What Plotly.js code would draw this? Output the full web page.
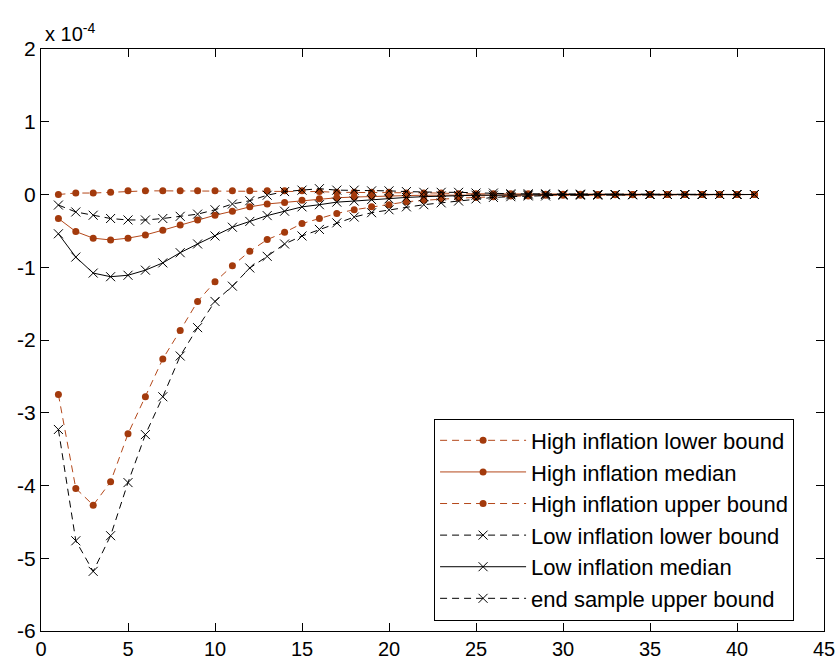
<!DOCTYPE html>
<html>
<head>
<meta charset="utf-8">
<script src="https://cdn.plot.ly/plotly-3.0.1.min.js"></script>
<style>
html,body{margin:0;padding:0;background:#fff;}
#chart{width:838px;height:659px;}
</style>
</head>
<body>
<div id="chart"></div>
<script>
// Horizon (periods)
const horizon = [1,2,3,4,5,6,7,8,9,10,11,12,13,14,15,16,17,18,19,20,21,22,23,24,25,26,27,28,29,30,31,32,33,34,35,36,37,38,39,40,41];

// Values in units of 1e-4
const highLower = [-2.75,-4.04,-4.27,-3.95,-3.29,-2.78,-2.26,-1.87,-1.47,-1.20,-0.98,-0.78,-0.62,-0.52,-0.40,-0.33,-0.26,-0.21,-0.17,-0.14,-0.10,-0.08,-0.06,-0.05,-0.04,-0.03,-0.02,-0.02,-0.01,-0.01,-0.01,-0.01,-0.005,-0.005,0,0,0,0,0,0,0];
const highMedian = [-0.33,-0.51,-0.60,-0.625,-0.60,-0.556,-0.49,-0.42,-0.35,-0.285,-0.23,-0.17,-0.13,-0.11,-0.08,-0.06,-0.045,-0.035,-0.025,-0.02,-0.015,-0.01,-0.01,-0.005,-0.005,0,0,0,0,0,0,0,0,0,0,0,0,0,0,0,0];
const highUpper = [0.0,0.02,0.02,0.03,0.05,0.05,0.05,0.05,0.05,0.05,0.05,0.05,0.05,0.05,0.05,0.04,0.03,0.03,0.03,0.03,0.02,0.02,0.02,0.01,0.01,0.01,0.01,0.01,0.005,0.005,0.005,0,0,0,0,0,0,0,0,0,0];
const lowLower = [-3.23,-4.76,-5.18,-4.69,-3.96,-3.30,-2.78,-2.22,-1.83,-1.47,-1.26,-1.01,-0.85,-0.68,-0.57,-0.48,-0.39,-0.31,-0.25,-0.21,-0.17,-0.14,-0.115,-0.09,-0.06,-0.04,-0.03,-0.02,-0.02,-0.01,-0.01,-0.01,-0.005,-0.005,0,0,0,0,0,0,0];
const lowMedian = [-0.54,-0.86,-1.08,-1.13,-1.11,-1.04,-0.94,-0.80,-0.68,-0.57,-0.45,-0.37,-0.29,-0.23,-0.17,-0.14,-0.105,-0.09,-0.07,-0.06,-0.04,-0.03,-0.02,-0.015,-0.01,-0.01,-0.005,-0.005,0,0,0,0,0,0,0,0,0,0,0,0,0];
const endUpper = [-0.145,-0.24,-0.285,-0.33,-0.35,-0.35,-0.33,-0.30,-0.27,-0.21,-0.13,-0.085,-0.01,0.04,0.06,0.08,0.06,0.06,0.05,0.05,0.04,0.03,0.03,0.03,0.02,0.02,0.01,0.01,0.01,0.005,0.005,0,0,0,0,0,0,0,0,0,0];

const seriesNames = ["High inflation lower bound","High inflation median","High inflation upper bound","Low inflation lower bound","Low inflation median","end sample upper bound"];
const xTicks = [0,5,10,15,20,25,30,35,40,45];
const yTicks = [-6,-5,-4,-3,-2,-1,0,1,2];

const ORANGE_LINE = '#B4481A';
const ORANGE_DOT = '#A33A0C';
const DASH = '7px,5px';

function dotTrace(y, name, dash) {
  return {x: horizon, y: y, name: name, type: 'scatter', mode: 'lines+markers',
    line: {color: ORANGE_LINE, width: 1, dash: dash},
    marker: {symbol: 'circle', size: 7, color: ORANGE_DOT}};
}
function crossTrace(y, name, dash) {
  return {x: horizon, y: y, name: name, type: 'scatter', mode: 'lines+markers',
    line: {color: '#000', width: 1, dash: dash},
    marker: {symbol: 'x-thin-open', size: 9, color: '#000', line: {color: '#000', width: 1}}};
}

const data = [
  dotTrace(highLower, seriesNames[0], DASH),
  dotTrace(highMedian, seriesNames[1], 'solid'),
  dotTrace(highUpper, seriesNames[2], DASH),
  crossTrace(lowLower, seriesNames[3], DASH),
  crossTrace(lowMedian, seriesNames[4], 'solid'),
  crossTrace(endUpper, seriesNames[5], DASH)
];

const fontFam = 'Liberation Sans, Arial, sans-serif';
const layout = {
  width: 838, height: 659,
  margin: {l: 41, r: 14, t: 49, b: 28, pad: 0},
  paper_bgcolor: '#fff', plot_bgcolor: '#fff',
  font: {family: fontFam, size: 21, color: '#000'},
  showlegend: true,
  xaxis: {range: [0, 45], tickvals: xTicks, ticktext: xTicks.map(String),
    ticks: 'inside', ticklen: 8, tickcolor: '#000', showgrid: false, zeroline: false,
    showline: true, linecolor: '#000', linewidth: 1, mirror: 'ticks',
    tickfont: {family: fontFam, size: 20, color: '#000'}},
  yaxis: {range: [-6, 2], tickvals: yTicks, ticktext: yTicks.map(String),
    ticks: 'inside', ticklen: 8, tickcolor: '#000', showgrid: false, zeroline: false,
    showline: true, linecolor: '#000', linewidth: 1, mirror: 'ticks',
    tickfont: {family: fontFam, size: 21, color: '#000'}},
  legend: {x: 0.502, y: 0.018, xanchor: 'left', yanchor: 'bottom',
    bgcolor: '#fff', bordercolor: '#000', borderwidth: 1,
    font: {family: fontFam, size: 22, color: '#000'},
    itemwidth: 86, tracegroupgap: 0},
  annotations: [{xref: 'paper', yref: 'paper', x: 0, y: 1, xanchor: 'left', yanchor: 'bottom',
    xshift: 2, yshift: 2, showarrow: false,
    text: 'x 10<sup>-4</sup>', font: {family: fontFam, size: 20, color: '#000'}}]
};

Plotly.newPlot('chart', data, layout, {displayModeBar: false, staticPlot: true});
</script>
</body>
</html>
